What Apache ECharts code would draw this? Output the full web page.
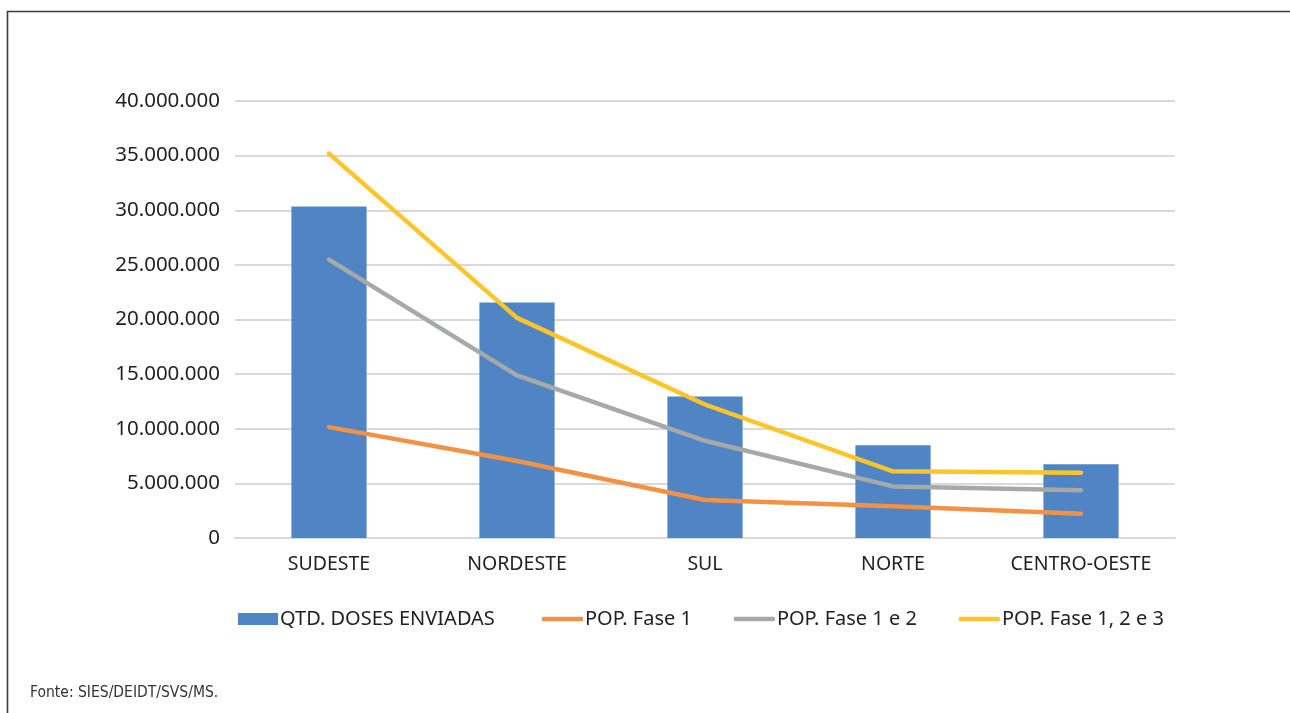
<!DOCTYPE html>
<html>
<head>
<meta charset="utf-8">
<script src="https://cdn.jsdelivr.net/npm/echarts@6/dist/echarts.min.js"></script>
<style>
  html, body { margin: 0; padding: 0; background: #fff; }
  #chart { width: 1290px; height: 713px; }
</style>
</head>
<body>
<div id="chart"></div>
<script>
// Regions and values
const categories = ['SUDESTE', 'NORDESTE', 'SUL', 'NORTE', 'CENTRO-OESTE'];
const dosesEnviadas = [30350000, 21550000, 12950000, 8480000, 6760000];
const popFase1 = [10150000, 7050000, 3480000, 2900000, 2220000];
const popFase12 = [25480000, 14880000, 8900000, 4720000, 4380000];
const popFase123 = [35180000, 20150000, 12220000, 6100000, 5980000];
const seriesNames = ['QTD. DOSES ENVIADAS', 'POP. Fase 1', 'POP. Fase 1 e 2', 'POP. Fase 1, 2 e 3'];
const sourceNote = 'Fonte: SIES/DEIDT/SVS/MS.';

const FONT = '"Noto Sans", "Open Sans", sans-serif';
const TEXT = '#222222';
const fmt = v => String(v).replace(/\B(?=(\d{3})+(?!\d))/g, '.');

const chart = echarts.init(document.getElementById('chart'), null, { renderer: 'canvas' });

const lineSeries = (name, data, color) => ({
  name, type: 'line', data,
  symbol: 'none',
  showSymbol: false,
  smooth: false,
  lineStyle: { color, width: 4.5, cap: 'round', join: 'round' },
  itemStyle: { color },
  z: 3
});

const legendText = { color: TEXT, fontSize: 20, fontFamily: FONT, padding: [0, 0, 0, -3] };

chart.setOption({
  animation: false,
  backgroundColor: '#ffffff',
  grid: { left: 235, right: 115, top: 101, bottom: 175, containLabel: false },
  xAxis: {
    type: 'category',
    data: categories,
    axisLine: { show: true, lineStyle: { color: '#d9d9d9', width: 2 } },
    axisTick: { show: false },
    axisLabel: { color: TEXT, fontSize: 19.5, fontFamily: FONT, margin: 16 }
  },
  yAxis: {
    type: 'value',
    min: 0, max: 40000000, interval: 5000000,
    axisLine: { show: false },
    axisTick: { show: false },
    splitLine: { lineStyle: { color: '#d9d9d9', width: 2 } },
    axisLabel: { color: TEXT, fontSize: 20.5, fontFamily: FONT, margin: 15, formatter: fmt }
  },
  legend: [
    {
      left: 238, top: 609, padding: 0,
      itemWidth: 40, itemHeight: 12,
      textStyle: legendText,
      data: [{ name: seriesNames[0], icon: 'rect' }]
    },
    {
      left: 542, top: 609, padding: 0,
      itemGap: 42,
      itemWidth: 41, itemHeight: 4.5,
      textStyle: legendText,
      data: [
        { name: seriesNames[1], icon: 'roundRect' },
        { name: seriesNames[2], icon: 'roundRect' },
        { name: seriesNames[3], icon: 'roundRect' }
      ]
    }
  ],
  series: [
    {
      name: seriesNames[0], type: 'bar', data: dosesEnviadas,
      barWidth: '40%',
      itemStyle: { color: '#4f84c5' },
      z: 2
    },
    lineSeries(seriesNames[1], popFase1, '#f39244'),
    lineSeries(seriesNames[2], popFase12, '#a7a9a9'),
    lineSeries(seriesNames[3], popFase123, '#fdc52a')
  ],
  graphic: [
    {
      type: 'polyline',
      shape: { points: [[7.5, 713], [7.5, 11.5], [1290, 11.5]] },
      style: { stroke: '#3a3a3a', lineWidth: 1.6, fill: null },
      silent: true
    },
    {
      type: 'text',
      left: 30, top: 685,
      style: {
        text: sourceNote,
        fill: '#333333',
        fontSize: 15.5,
        fontFamily: '"Liberation Sans Narrow", "DejaVu Sans Condensed", sans-serif'
      }
    }
  ]
});
</script>
</body>
</html>
